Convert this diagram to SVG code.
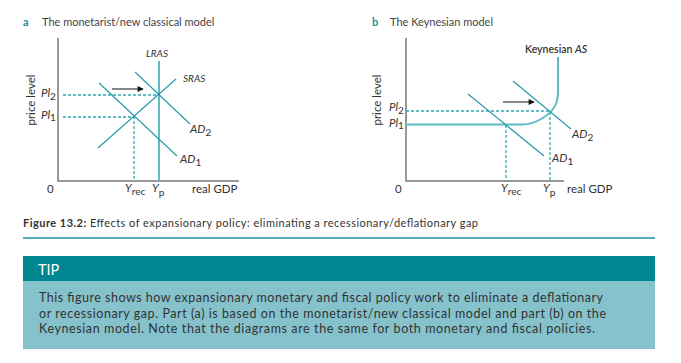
<svg xmlns="http://www.w3.org/2000/svg" width="681" height="363" viewBox="0 0 681 363">
<style>
text{font-family:Lato,"Open Sans","Liberation Sans",sans-serif;fill:#333}
.ttl{font-size:11px;fill:#444}
.tl{font-size:11px;font-weight:bold;fill:#1a8f9c}
.lab{font-size:11.5px;fill:#333}
.it{font-style:italic}
.sm{font-size:10px}
.axis{stroke:#777;stroke-width:1.5;fill:none}
.ln{stroke:#2a9ba8;stroke-width:1.2;fill:none}
.thick{stroke:#5fbcc5;stroke-width:2;fill:none}
.dash{stroke:#2fa9b5;stroke-width:1.3;stroke-dasharray:3 2;fill:none}
.arr{stroke:#111;stroke-width:1;fill:none;marker-end:url(#ah)}
.body{font-size:12.5px;fill:#333}
</style>
<defs>
<marker id="ah" viewBox="0 0 10 10" refX="9" refY="5" markerWidth="7" markerHeight="6" markerUnits="userSpaceOnUse" orient="auto">
<path d="M0,0 L10,5 L0,10 z" fill="#111"/>
</marker>
</defs>
<rect width="681" height="363" fill="#fff"/>

<!-- Panel a -->
<g id="panel-a-title">
<text x="23" y="26" class="tl">a</text>
<text x="42" y="26" class="ttl">The monetarist/new classical model</text>
</g>
<g id="axes-a">
<path class="axis" d="M58,38 V181 H239"/>
<text x="35" y="100" class="lab" text-anchor="middle" transform="rotate(-90 35 100)">price level</text>
<text x="47" y="193" class="lab">0</text>
<text x="192" y="193" class="lab">real GDP</text>
</g>
<g id="connectors-a">
<path class="dash" d="M63,95 H159"/>
<path class="dash" d="M63,117 H134 V181"/>
<path class="arr" d="M112,89 H143"/>
</g>
<g id="lras">
<path class="thick" d="M159,61 V181"/>
<text x="157" y="57" class="sm it" text-anchor="middle">LRAS</text>
</g>
<g id="sras">
<path class="ln" d="M98,148 L176,79"/>
<text x="183" y="82" class="sm it">SRAS</text>
</g>
<g id="ad2-a">
<path class="ln" d="M135,72 L190,124"/>
<text x="190" y="133" class="lab"><tspan class="it">AD</tspan><tspan dy="3" class="sm">2</tspan></text>
</g>
<g id="ad1-a">
<path class="ln" d="M99,83 L177,156"/>
<text x="180" y="163" class="lab"><tspan class="it">AD</tspan><tspan dy="3" class="sm">1</tspan></text>
</g>
<g id="labels-a">
<text x="41" y="97" class="lab"><tspan class="it">Pl</tspan><tspan dy="3" class="sm">2</tspan></text>
<text x="41" y="119" class="lab"><tspan class="it">Pl</tspan><tspan dy="2" class="sm">1</tspan></text>
<text x="125" y="192" class="lab"><tspan class="it">Y</tspan><tspan dy="3" class="sm">rec</tspan></text>
<text x="152" y="192" class="lab"><tspan class="it">Y</tspan><tspan dy="4" class="sm">p</tspan></text>
</g>

<!-- Panel b -->
<g id="panel-b-title">
<text x="372" y="26" class="tl">b</text>
<text x="390" y="26" class="ttl">The Keynesian model</text>
</g>
<g id="axes-b">
<path class="axis" d="M406,38 V181 H564"/>
<text x="381" y="100" class="lab" text-anchor="middle" transform="rotate(-90 381 100)">price level</text>
<text x="395" y="193" class="lab">0</text>
<text x="567" y="193" class="lab">real GDP</text>
</g>
<g id="connectors-b">
<path class="dash" d="M406,111 H550 V181"/>
<path class="dash" d="M506,125 V181"/>
<path class="arr" d="M503,102 H534"/>
</g>
<g id="keynesian-as">
<path class="thick" d="M406,124.5 H522 C536,124.5 552,114 556,104 C557.5,100 558,96 558,90 V57" stroke="#4bb3bd"/>
<text x="525" y="53" font-size="10.5" font-weight="600">Keynesian <tspan class="it">AS</tspan></text>
</g>
<g id="ad1-b">
<path class="ln" d="M468,94 L544,156"/>
<text x="552" y="162" class="lab"><tspan class="it">AD</tspan><tspan dy="3" class="sm">1</tspan></text>
</g>
<g id="ad2-b">
<path class="ln" d="M513,81 L571,129"/>
<text x="572" y="138" class="lab"><tspan class="it">AD</tspan><tspan dy="3" class="sm">2</tspan></text>
</g>
<g id="labels-b">
<text x="389" y="111" class="lab"><tspan class="it">Pl</tspan><tspan dy="3" class="sm">2</tspan></text>
<text x="389" y="127" class="lab"><tspan class="it">Pl</tspan><tspan dy="2" class="sm">1</tspan></text>
<text x="501" y="192" class="lab"><tspan class="it">Y</tspan><tspan dy="3" class="sm">rec</tspan></text>
<text x="543" y="192" class="lab"><tspan class="it">Y</tspan><tspan dy="4" class="sm">p</tspan></text>
</g>

<!-- Caption -->
<g id="caption">
<text x="23" y="227" font-size="11" textLength="455"><tspan font-weight="bold">Figure 13.2:</tspan> Effects of expansionary policy: eliminating a recessionary/deflationary gap</text>
<path d="M23,238 H655" stroke="#1a8f9c" stroke-width="1.3"/>
</g>

<!-- Tip box -->
<g id="tip">
<rect x="23" y="256" width="632" height="25" fill="#008591"/>
<rect x="23" y="281" width="632" height="68" fill="#85c2cc"/>
<text x="38" y="275" font-size="14.5" style="fill:#fff">TIP</text>
<text x="39" y="302" class="body" textLength="564">This figure shows how expansionary monetary and fiscal policy work to eliminate a deflationary</text>
<text x="39" y="317.5" class="body" textLength="567">or recessionary gap. Part (a) is based on the monetarist/new classical model and part (b) on the</text>
<text x="39" y="333" class="body" textLength="556">Keynesian model. Note that the diagrams are the same for both monetary and fiscal policies.</text>
</g>
</svg>
